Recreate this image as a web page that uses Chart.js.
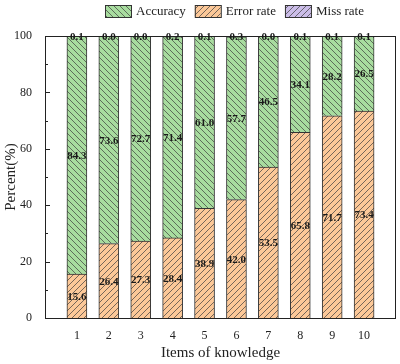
<!DOCTYPE html>
<html>
<head>
<meta charset="utf-8">
<script src="https://cdn.jsdelivr.net/npm/chart.js@4.4.0/dist/chart.umd.min.js"></script>
<style>
  html, body { margin: 0; padding: 0; background: #fff; }
</style>
</head>
<body>
<canvas id="chart" width="400" height="364"></canvas>
<script>
// data
const categories = ['1', '2', '3', '4', '5', '6', '7', '8', '9', '10'];
const errorRate = [15.6, 26.4, 27.3, 28.4, 38.9, 42.0, 53.5, 65.8, 71.7, 73.4];
const accuracy = [84.3, 73.6, 72.7, 71.4, 61.0, 57.7, 46.5, 34.1, 28.2, 26.5];
const missRate = [0.1, 0.0, 0.0, 0.2, 0.1, 0.3, 0.0, 0.1, 0.1, 0.1];
const yTicks = [0, 20, 40, 60, 80, 100];
const yMinorTicks = [10, 30, 50, 70, 90];

const serif = '"Liberation Serif", "Times New Roman", serif';
const ctx = document.getElementById('chart').getContext('2d');

// hatched fill
function hatch(bg, dir) {
  const s = 6;
  const c = document.createElement('canvas');
  c.width = s; c.height = s;
  const g = c.getContext('2d');
  g.fillStyle = bg;
  g.fillRect(0, 0, s, s);
  g.strokeStyle = '#3c3c3c';
  g.lineWidth = 0.7;
  g.beginPath();
  if (dir === '/') {
    g.moveTo(0, s); g.lineTo(s, 0);
    g.moveTo(-1, 1); g.lineTo(1, -1);
    g.moveTo(s - 1, s + 1); g.lineTo(s + 1, s - 1);
  } else {
    g.moveTo(0, 0); g.lineTo(s, s);
    g.moveTo(s - 1, -1); g.lineTo(s + 1, 1);
    g.moveTo(-1, s - 1); g.lineTo(1, s + 1);
  }
  g.stroke();
  return ctx.createPattern(c, 'repeat');
}

// empty slot at each end so the bars sit at 1..10 on a 0..11 axis
const pad = arr => [null, ...arr, null];

const frameAndTicks = {
  id: 'frameAndTicks',
  afterDatasetsDraw(chart) {
    const a = chart.chartArea;
    const y = chart.scales.y;
    const c = chart.ctx;
    c.save();
    c.strokeStyle = '#222';
    c.lineWidth = 1;
    c.strokeRect(Math.round(a.left) + 0.5, Math.round(a.top) + 0.5,
      Math.round(a.right - a.left) - 1, Math.round(a.bottom - a.top));
    c.beginPath();
    yTicks.forEach(v => {
      const py = Math.round(y.getPixelForValue(v)) + 0.5;
      c.moveTo(a.left, py); c.lineTo(a.left + 5, py);
    });
    yMinorTicks.forEach(v => {
      const py = Math.round(y.getPixelForValue(v)) + 0.5;
      c.moveTo(a.left, py); c.lineTo(a.left + 3, py);
    });
    c.stroke();
    c.restore();
  }
};

const valueLabels = {
  id: 'valueLabels',
  afterDatasetsDraw(chart) {
    const c = chart.ctx;
    c.save();
    c.font = 'bold 11px ' + serif;
    c.fillStyle = '#1a1a1a';
    c.textAlign = 'center';
    c.textBaseline = 'middle';
    chart.data.datasets.forEach((ds, i) => {
      chart.getDatasetMeta(i).data.forEach((bar, j) => {
        const v = ds.data[j];
        if (v == null) return;
        c.fillText(v.toFixed(1), bar.x, (bar.y + bar.base) / 2 + 1);
      });
    });
    c.restore();
  }
};

const legendTop = {
  id: 'legendTop',
  afterDraw(chart) {
    const c = chart.ctx;
    const order = [1, 0, 2];
    c.save();
    c.font = '13px ' + serif;
    c.textBaseline = 'middle';
    let x = 105;
    order.forEach(i => {
      const ds = chart.data.datasets[i];
      c.fillStyle = ds.backgroundColor;
      c.fillRect(x, 5, 26, 12);
      c.strokeStyle = '#333';
      c.lineWidth = 1;
      c.strokeRect(x + 0.5, 5.5, 26, 12);
      c.fillStyle = '#222';
      c.fillText(ds.label, x + 31, 11.5);
      x += 31 + c.measureText(ds.label).width + 9;
    });
    c.restore();
  }
};

new Chart(ctx, {
  type: 'bar',
  data: {
    labels: pad(categories),
    datasets: [
      { label: 'Error rate', data: pad(errorRate), backgroundColor: hatch('#fcc898', '/') },
      { label: 'Accuracy', data: pad(accuracy), backgroundColor: hatch('#a8dc9f', '\\') },
      { label: 'Miss rate', data: pad(missRate), backgroundColor: hatch('#cbbde8', '/') }
    ]
  },
  options: {
    responsive: false,
    animation: false,
    layout: { padding: { top: 36, right: 4, left: 0, bottom: 0 } },
    datasets: {
      bar: { barThickness: 20, borderColor: '#333', borderWidth: 1 }
    },
    plugins: {
      legend: { display: false },
      tooltip: { enabled: false }
    },
    scales: {
      x: {
        stacked: true,
        offset: false,
        grid: { display: false },
        border: { display: false },
        ticks: { autoSkip: false, maxRotation: 0, padding: 3, color: '#222', font: { family: serif, size: 12 } },
        title: { display: true, text: 'Items of knowledge', color: '#222', padding: 2, font: { family: serif, size: 15 } },
        afterFit: s => { s.height = 46; }
      },
      y: {
        stacked: true,
        min: 0,
        max: 100,
        grid: { display: false },
        border: { display: false },
        ticks: { stepSize: 20, padding: 5, color: '#222', font: { family: serif, size: 12 } },
        title: { display: true, text: 'Percent(%)', color: '#222', padding: 2, font: { family: serif, size: 15 } },
        afterFit: s => { s.width = 45; }
      }
    }
  },
  plugins: [frameAndTicks, valueLabels, legendTop]
});
</script>
</body>
</html>
